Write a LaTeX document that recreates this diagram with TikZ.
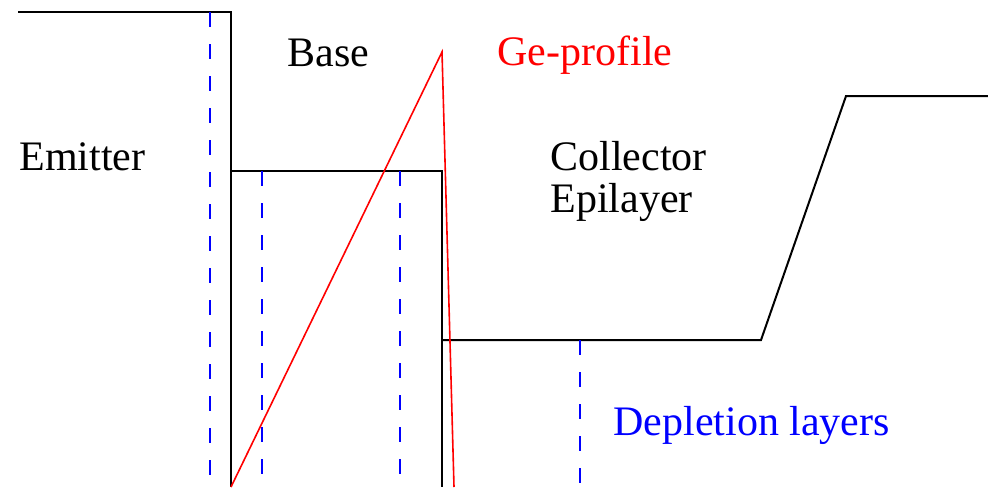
\documentclass[tikz,border=0pt]{standalone}
\usepackage{fontspec}
\setmainfont{Liberation Serif}
\usetikzlibrary{positioning}

\begin{document}
\begin{tikzpicture}[x=0.5pt, y=-0.5pt,
  every node/.style={anchor=base west, inner sep=0pt, font=\fontsize{21}{21}\selectfont},
  band/.style={line width=1pt},
  deplete/.style={blue, line width=0.75pt, dash pattern=on 7.5pt off 8.5pt},
  geline/.style={red, line width=0.8pt}]
\path[use as bounding box] (0,0) rectangle (988,487);
% doping profile
\draw[band] (18,12) -- (231,12) -- (231,487);
\draw[band] (231,171) -- (442,171) -- (442,487);
\draw[band] (442,340) -- (761,340) -- (846,96) -- (988,96);
% depletion edges
\draw[deplete] (210,12) -- (210,487);
\draw[deplete] (262,171) -- (262,487);
\draw[deplete] (400,171) -- (400,487);
\draw[deplete] (580,340) -- (580,487);
% germanium
\draw[geline] (231,487) -- (442,52) -- (454,487);
\node (emit) at (19,170) {Emitter};
\node (base) at (287,66) {Base};
\node[red] (ge) at (497,65) {Ge-profile};
\node (coll) at (550,170) {Collector};
\node (epi) at (550,212) {Epilayer};
\node[blue] (depl) at (613,435) {Depletion layers};
\end{tikzpicture}
\end{document}
